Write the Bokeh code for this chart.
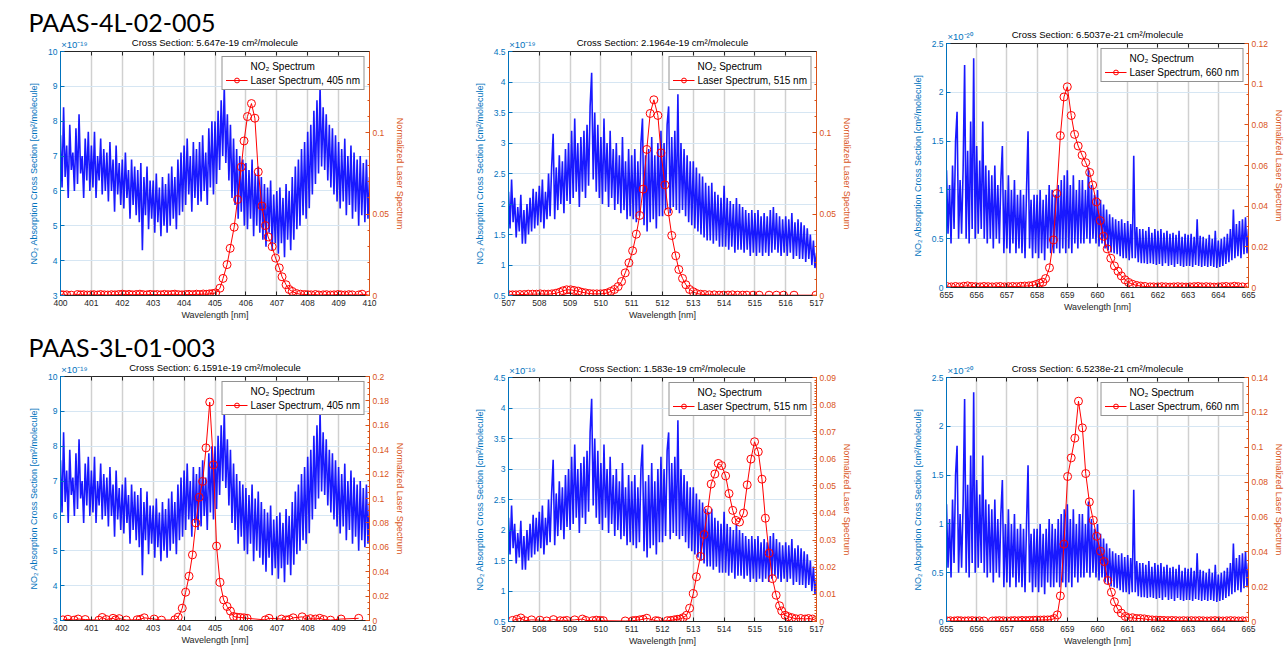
from bokeh.plotting import figure
from bokeh.models import (Range1d, LinearAxis, SingleIntervalTicker, FixedTicker,
                          NumeralTickFormatter, Legend, LegendItem, Title)
from bokeh.layouts import row, column
from bokeh.embed import file_html
from bokeh.resources import INLINE
from bokeh.core.properties import value

# ---------------- data ----------------
# NO2 cross-section spectra (sampled every 0.05 nm), units of 1e-19 (405, 515) and 1e-20 (660)
no2_step = 0.05
no2_405_start = 400.0
no2_405 = [
    7.6, 6.1, 8.4, 6.4, 7.3, 5.8, 7.9, 6.6, 7.1, 6.0,
    7.8, 6.2, 8.2, 6.5, 7.0, 5.8, 7.5, 6.3, 7.7, 6.0,
    7.3, 6.1, 7.7, 5.8, 7.0, 6.3, 7.5, 5.9, 7.2, 6.0,
    7.1, 5.7, 7.4, 6.0, 6.9, 5.4, 7.3, 5.9, 6.8, 5.6,
    6.9, 5.5, 7.1, 5.8, 6.6, 5.2, 6.9, 5.6, 6.7, 5.3,
    6.6, 5.1, 6.8, 4.3, 6.4, 5.3, 6.7, 4.9, 6.3, 5.2,
    6.3, 4.8, 6.5, 5.1, 6.1, 4.7, 6.4, 5.0, 6.2, 4.8,
    6.5, 5.0, 6.7, 5.2, 6.4, 4.9, 6.9, 5.3, 7.1, 5.4,
    7.3, 5.6, 7.5, 5.9, 7.0, 5.4, 7.4, 5.8, 7.2, 5.6,
    7.4, 5.7, 7.6, 6.0, 7.1, 5.6, 7.8, 6.1, 8.0, 5.9,
    8.0, 6.2, 8.3, 6.6, 8.6, 7.0, 9.0, 6.8, 8.2, 6.3,
    7.9, 5.8, 7.5, 5.6, 7.2, 5.2, 7.0, 5.4, 6.9, 5.0,
    6.8, 4.9, 6.6, 5.2, 6.9, 4.7, 6.5, 5.0, 6.7, 4.8,
    6.4, 4.6, 6.2, 4.4, 6.1, 4.8, 6.3, 4.3, 5.9, 4.5,
    6.0, 4.2, 6.1, 4.5, 5.8, 4.1, 6.2, 4.6, 6.0, 4.3,
    6.4, 4.6, 6.7, 4.9, 6.9, 5.0, 7.2, 5.3, 7.4, 5.2,
    7.7, 5.5, 7.9, 5.9, 8.3, 6.2, 8.6, 6.5, 9.0, 6.7,
    8.4, 6.6, 8.2, 6.3, 7.9, 6.1, 7.8, 5.9, 7.6, 5.7,
    7.4, 5.5, 7.2, 5.7, 7.5, 5.3, 7.0, 5.6, 7.3, 5.2,
    7.1, 5.4, 6.9, 5.0, 7.0, 5.3, 6.8, 5.1, 6.9, 5.2, 6.4]

no2_515_start = 507.0
no2_515 = [
    2.2, 1.6, 2.4, 1.7, 2.1, 1.45, 1.95, 1.55, 2.15, 1.35,
    1.9, 1.35, 2.0, 1.5, 2.1, 1.55, 2.25, 1.6, 2.2, 1.65,
    2.3, 1.7, 2.4, 1.6, 2.2, 1.75, 2.5, 1.8, 2.6, 3.15,
    1.75, 2.6, 1.9, 2.8, 2.0, 2.7, 1.85, 2.9, 2.05, 3.0,
    2.0, 3.2, 2.1, 3.4, 2.2, 3.0, 1.95, 3.1, 2.2, 3.2,
    2.1, 3.3, 2.3, 3.6, 4.15, 2.4, 3.5, 2.2, 3.3, 2.1,
    3.1, 2.0, 3.4, 2.2, 3.0, 1.95, 3.2, 2.1, 2.9, 1.9,
    3.0, 2.0, 2.8, 1.85, 3.1, 1.9, 2.7, 1.75, 2.9, 1.8,
    2.8, 1.75, 2.9, 1.7, 2.7, 1.8, 3.0, 3.4, 1.65, 2.8,
    1.55, 2.9, 1.7, 3.1, 1.75, 2.8, 1.6, 3.0, 1.8, 3.2,
    1.8, 3.0, 1.9, 3.3, 3.6, 1.85, 3.1, 1.95, 3.2, 1.9,
    3.8, 1.85, 3.0, 1.9, 2.9, 1.8, 2.8, 1.7, 2.7, 1.65,
    2.7, 1.6, 2.6, 1.55, 2.5, 1.5, 2.45, 1.45, 2.35, 1.4,
    2.3, 1.4, 2.35, 1.35, 2.2, 1.4, 2.15, 1.3, 2.1, 1.3,
    2.3, 1.3, 2.1, 1.25, 2.05, 1.3, 2.0, 1.2, 2.1, 1.25,
    2.0, 1.25, 1.95, 1.2, 1.9, 1.25, 1.85, 1.15, 1.9, 1.2,
    1.85, 1.15, 1.9, 1.2, 1.8, 1.15, 1.85, 1.2, 1.8, 1.15,
    1.9, 1.2, 1.95, 1.25, 1.85, 1.2, 1.8, 1.15, 1.75, 1.2,
    1.8, 1.15, 1.75, 1.2, 1.85, 1.1, 1.7, 1.15, 1.75, 1.1,
    1.7, 1.1, 1.65, 1.05, 1.6, 1.1, 1.5, 1.0, 1.4, 0.95, 1.2]

no2_660_start = 655.0
no2_660 = [
    1.2, 0.55, 1.05, 0.45, 1.25, 0.6, 1.5, 1.8, 0.5, 1.1,
    0.55, 1.2, 2.28, 0.5, 1.4, 0.45, 1.7, 0.6, 2.35, 0.5,
    1.45, 0.55, 1.3, 0.6, 1.7, 0.5, 1.25, 0.45, 1.2, 0.5,
    1.15, 0.4, 1.25, 0.5, 1.05, 0.45, 1.1, 1.45, 0.35, 1.0,
    0.4, 1.15, 0.35, 1.0, 0.45, 1.1, 0.35, 0.95, 0.4, 1.0,
    0.35, 0.95, 0.3, 1.0, 1.6, 0.4, 0.9, 0.3, 0.95, 0.35,
    0.95, 0.3, 1.0, 0.35, 0.9, 0.28, 0.95, 0.4, 1.05, 0.35,
    1.0, 0.35, 0.95, 0.4, 1.05, 0.35, 1.1, 0.4, 1.15, 0.35,
    1.2, 0.4, 1.05, 0.35, 1.15, 0.45, 1.0, 0.4, 1.1, 0.45,
    1.1, 0.45, 1.0, 0.5, 1.23, 0.45, 1.05, 0.5, 0.95, 0.45,
    1.0, 0.42, 0.9, 0.45, 0.85, 0.4, 0.8, 0.38, 0.75, 0.36,
    0.72, 0.35, 0.7, 0.34, 0.68, 0.32, 0.7, 0.3, 0.66, 0.3,
    0.68, 0.28, 0.65, 0.3, 1.35, 0.3, 0.62, 0.26, 0.6, 0.25,
    0.6, 0.25, 0.58, 0.24, 0.62, 0.25, 0.56, 0.24, 0.6, 0.23,
    0.58, 0.24, 0.6, 0.22, 0.56, 0.25, 0.58, 0.22, 0.55, 0.23,
    0.56, 0.21, 0.54, 0.24, 0.58, 0.22, 0.52, 0.21, 0.55, 0.22,
    0.54, 0.22, 0.55, 0.21, 0.52, 0.23, 0.7, 0.22, 0.53, 0.21,
    0.52, 0.22, 0.5, 0.21, 0.54, 0.22, 0.5, 0.21, 0.58, 0.2,
    0.48, 0.21, 0.5, 0.22, 0.52, 0.24, 0.55, 0.26, 0.6, 0.28,
    0.8, 0.3, 0.65, 0.32, 0.68, 0.3, 0.7, 0.34, 0.72, 0.35, 0.6]

# Laser spectra (normalized)
las_4L_405_x = [
    400.0, 400.1, 400.2, 400.35, 400.55, 400.65, 400.75, 400.87, 400.98, 401.08,
    401.2, 401.3, 401.42, 401.53, 401.65, 401.76, 401.88, 402.0, 402.1, 402.22,
    402.33, 402.45, 402.57, 402.68, 402.8, 402.9, 403.02, 403.13, 403.25, 403.36,
    403.48, 403.6, 403.7, 403.82, 403.93, 404.05, 404.16, 404.28, 404.4, 404.5,
    404.62, 404.73, 404.82, 404.92,
    405.02, 405.16, 405.26, 405.39, 405.49, 405.62, 405.73, 405.85, 405.94, 406.05,
    406.18, 406.29, 406.40, 406.52, 406.63, 406.72, 406.85, 406.96, 407.08, 407.17,
    407.30, 407.40, 407.50, 407.64,
    407.77, 407.9, 408.0, 408.11, 408.25, 408.36, 408.5, 408.61, 408.74, 408.85,
    408.98, 409.08, 409.2, 409.33, 409.44, 409.65, 409.76, 409.98]
las_4L_405_y = [
    0.0005, 0.0003, 0.0004, 0.0002, 0.0006, 0.0004, 0.0005, 0.0003, 0.0004, 0.0005,
    0.0003, 0.0006, 0.0004, 0.0003, 0.0005, 0.0004, 0.0006, 0.0008, 0.0005, 0.0007,
    0.0004, 0.0006, 0.0008, 0.0005, 0.0004, 0.0007, 0.0005, 0.0006, 0.0004, 0.0007,
    0.0005, 0.0006, 0.0008, 0.0005, 0.0004, 0.0006, 0.0007, 0.0005, 0.0008, 0.0006,
    0.0009, 0.0007, 0.001, 0.0012,
    0.0016, 0.0045, 0.0105, 0.019, 0.029, 0.042, 0.059, 0.079, 0.095, 0.110,
    0.118, 0.109, 0.076, 0.055, 0.043, 0.036, 0.030, 0.023, 0.017, 0.0115,
    0.0066, 0.0037, 0.0025, 0.0012,
    0.0008, 0.0006, 0.0005, 0.0004, 0.0006, 0.0003, 0.0004, 0.0005, 0.0003, 0.0004,
    0.0006, 0.0004, 0.0003, 0.0005, 0.0004, 0.0003, 0.0008, 0.0002]

las_4L_515_x = [
    507.02, 507.13, 507.24, 507.37, 507.51, 507.64, 507.78, 507.91, 508.03, 508.16,
    508.29, 508.41, 508.54, 508.66, 508.77, 508.89, 509.02, 509.13, 509.26, 509.38,
    509.50, 509.63, 509.75, 509.87, 509.99, 510.11, 510.21, 510.32, 510.44, 510.56,
    510.67, 510.79, 510.91, 511.03, 511.15, 511.26, 511.37, 511.49, 511.60, 511.72,
    511.85, 511.95, 512.08, 512.19, 512.30, 512.43, 512.53, 512.65, 512.76, 512.88,
    513.00, 513.11, 513.24, 513.37, 513.52, 513.68, 513.84, 513.98, 514.13, 514.27,
    514.44, 514.60, 514.74, 514.94, 515.14, 515.46, 515.70, 515.93, 516.27, 516.98]
las_4L_515_y = [
    0.0004, 0.0004, 0.0004, 0.0006, 0.0006, 0.0008, 0.0008, 0.0008, 0.001, 0.0008,
    0.0008, 0.001, 0.0014, 0.002, 0.0029, 0.0035, 0.0035, 0.0031, 0.0027, 0.002,
    0.0016, 0.0012, 0.001, 0.001, 0.001, 0.0012, 0.0016, 0.0025, 0.0037, 0.0055,
    0.0086, 0.0139, 0.0201, 0.0275, 0.0377, 0.0492, 0.0654, 0.0898, 0.1119, 0.1203,
    0.1107, 0.0877, 0.068, 0.0514, 0.0369, 0.0244, 0.016, 0.0105, 0.0066, 0.0037,
    0.0023, 0.0012, 0.0008, 0.0006, 0.0004, 0.0004, 0.0002, 0.0002, 0.0002, 0.0004,
    0.0002, 0.0002, 0.0002, 0.0002, 0.0002, 0.0002, 0.0002, 0.0002, 0.0002, 0.0002]

las_4L_660_x = [
    655.03, 655.16, 655.3, 655.43, 655.57, 655.7, 655.84, 655.97, 656.11, 656.24,
    656.38, 656.51, 656.65, 656.78, 656.92, 657.05, 657.19, 657.32, 657.46, 657.59,
    657.73,
    657.86, 657.97, 658.08, 658.19, 658.28, 658.41, 658.54, 658.65, 658.77, 658.89,
    659.00, 659.13, 659.24, 659.36, 659.49, 659.61, 659.74, 659.84, 659.96, 660.09,
    660.20, 660.32, 660.44, 660.56, 660.68, 660.79, 660.91, 661.03, 661.16, 661.30,
    661.43, 661.57, 661.74, 661.86,
    662.0, 662.13, 662.26, 662.4, 662.53, 662.66, 662.8, 662.93, 663.06, 663.2,
    663.33, 663.46, 663.6, 663.73, 663.86, 664.0, 664.13, 664.26, 664.4, 664.53,
    664.66, 664.8, 664.98]
las_4L_660_y = [
    0.0004, 0.0003, 0.0005, 0.0003, 0.0006, 0.0008, 0.0005, 0.0004, 0.0003, 0.0005,
    0.0004, 0.0003, 0.0004, 0.0005, 0.0003, 0.0004, 0.0005, 0.0004, 0.0006, 0.0007,
    0.0008,
    0.001, 0.0015, 0.0021, 0.0026, 0.0044, 0.0097, 0.0234, 0.0462, 0.0747, 0.0937,
    0.0987, 0.0846, 0.0753, 0.0696, 0.0651, 0.0614, 0.0566, 0.0504, 0.0421, 0.0329,
    0.0252, 0.019, 0.0144, 0.0106, 0.008, 0.0057, 0.0038, 0.0025, 0.0016, 0.001,
    0.0007, 0.0005, 0.0003, 0.0003,
    0.0003, 0.0004, 0.0003, 0.0002, 0.0003, 0.0004, 0.0003, 0.0002, 0.0003, 0.0004,
    0.0005, 0.0003, 0.0004, 0.0003, 0.0002, 0.0003, 0.0004, 0.0005, 0.0003, 0.0006,
    0.0004, 0.0003, 0.0002]

las_3L_405_x = [
    400.08, 400.24, 400.44, 400.57, 400.80, 401.24, 401.35, 401.48, 401.70, 401.78,
    401.90, 402.13, 402.48, 402.58, 402.71, 403.03, 403.27, 403.70, 403.81,
    403.94, 404.05, 404.16, 404.27, 404.38, 404.49, 404.60, 404.71, 404.83, 404.95,
    405.05, 405.16, 405.28, 405.39, 405.50, 405.60, 405.71,
    405.82, 405.94, 406.04, 406.63, 406.75, 407.15, 407.30, 407.40, 407.53, 407.82,
    407.96, 408.09, 408.25, 408.39, 408.52, 408.74, 409.08, 409.65]
las_3L_405_y = [
    0.0005, 0.001, 0.0003, 0.0012, 0.0008, 0.0003, 0.0025, 0.0008, 0.0018, 0.0005,
    0.0015, 0.0004, 0.0006, 0.001, 0.0022, 0.0012, 0.0003, 0.0006, 0.0028,
    0.0101, 0.0232, 0.0363, 0.0538, 0.080, 0.101, 0.114, 0.1415, 0.179, 0.1276,
    0.061, 0.0314, 0.0169, 0.0115, 0.0077, 0.0033, 0.0027,
    0.0025, 0.0022, 0.0018, 0.0005, 0.0018, 0.0012, 0.0004, 0.0008, 0.0022, 0.003,
    0.0008, 0.0015, 0.0012, 0.0018, 0.0008, 0.0003, 0.0012, 0.0018]

las_3L_515_x = [
    507.13, 507.27, 507.40, 507.53, 507.75, 508.02, 508.24, 508.46, 508.68, 508.79,
    508.89, 509.15, 509.40, 509.51, 509.73, 509.85, 509.98, 510.08, 510.79, 511.03,
    511.13, 511.26, 511.37, 511.49, 511.78, 511.86, 512.16, 512.27, 512.38, 512.48,
    512.57, 512.67, 512.78, 512.88, 513.00, 513.10, 513.23, 513.35, 513.47, 513.58,
    513.70, 513.81, 513.92, 514.05, 514.16, 514.28, 514.38, 514.50, 514.63, 514.75,
    514.87, 514.99, 515.11, 515.23, 515.34, 515.46, 515.57, 515.69, 515.80, 515.87,
    515.98, 516.08, 516.20, 516.33, 516.49, 516.63, 516.74, 516.87, 516.98]
las_3L_515_y = [
    0.0004, 0.0008, 0.0013, 0.0003, 0.0006, 0.0005, 0.0002, 0.0007, 0.0003, 0.0002,
    0.0004, 0.0006, 0.0009, 0.0004, 0.0003, 0.0005, 0.0004, 0.0003, 0.0002, 0.0003,
    0.0004, 0.0006, 0.0008, 0.0012, 0.0003, 0.0002, 0.0003, 0.0004, 0.0006, 0.0008,
    0.0009, 0.0014, 0.0023, 0.0049, 0.0103, 0.0165, 0.024, 0.0321, 0.0411, 0.0507,
    0.0544, 0.0583, 0.0575, 0.0537, 0.0472, 0.041, 0.0373, 0.0367, 0.04, 0.0504,
    0.0599, 0.0663, 0.0626, 0.0525, 0.0381, 0.0252, 0.0158, 0.0097, 0.0058, 0.0039,
    0.0023, 0.0018, 0.0014, 0.001, 0.0011, 0.0009, 0.0011, 0.0009, 0.0004]

las_3L_660_x = [
    655.02, 655.13, 655.26, 655.37, 655.48, 655.61, 655.72, 655.85, 655.97, 656.09,
    656.24, 656.52, 656.63, 656.75, 656.88, 657.01, 657.14, 657.25, 657.38, 657.5,
    657.63, 657.75, 657.88, 657.99, 658.11, 658.23,
    658.35, 658.46, 658.57, 658.67, 658.77, 658.89, 659.01, 659.13, 659.25, 659.37,
    659.50, 659.61, 659.73, 659.86, 659.97, 660.10, 660.22, 660.34, 660.46, 660.56,
    660.67, 660.79, 660.92, 661.03, 661.17, 661.30, 661.42, 661.55, 661.68,
    661.81, 661.94, 662.07, 662.2, 662.33, 662.46, 662.59, 662.72, 662.85, 662.98,
    663.11, 663.24, 663.37, 663.5, 663.63, 663.76, 663.89, 664.02, 664.15, 664.28,
    664.41, 664.54, 664.67, 664.8, 664.93]
las_3L_660_y = [
    0.0003, 0.0004, 0.0003, 0.0005, 0.0004, 0.0003, 0.0004, 0.0005, 0.0003, 0.0004,
    0.0003, 0.0003, 0.0004, 0.0005, 0.0004, 0.0003, 0.0004, 0.0005, 0.0004, 0.0006,
    0.0005, 0.0006, 0.0007, 0.0008, 0.0008, 0.0009,
    0.0009, 0.001, 0.0017, 0.0038, 0.0147, 0.0444, 0.0832, 0.0939, 0.1052, 0.1264,
    0.1111, 0.0849, 0.0686, 0.0581, 0.0489, 0.0403, 0.0344, 0.0235, 0.0168, 0.0113,
    0.0071, 0.0048, 0.0029, 0.0021, 0.0021, 0.0017, 0.0017, 0.0015, 0.0011,
    0.0009, 0.0008, 0.0007, 0.0006, 0.0005, 0.0006, 0.0005, 0.0004, 0.0005, 0.0004,
    0.0005, 0.0004, 0.0005, 0.0004, 0.0003, 0.0004, 0.0005, 0.0004, 0.0003, 0.0004,
    0.0005, 0.0004, 0.0003, 0.0004, 0.0003]

sample_names = ["PAAS-4L-02-005", "PAAS-3L-01-003"]
cross_sections = [["5.647e-19", "2.1964e-19", "6.5037e-21"],
                  ["6.1591e-19", "1.583e-19", "6.5238e-21"]]

# ---------------- style ----------------
FONT = "Liberation Sans"
TITLE_FONT = "Lato"
AX_BLUE = "#0072BD"
AX_ORANGE = "#D95319"
DARK = "#262626"


def sv(cls, prop, v):
    """Pass v as value() if the property is a data spec, else as a plain value."""
    try:
        cls(**{prop: value(v)})
        return value(v)
    except Exception:
        return v


def title_standoff(s):
    try:
        Title(standoff=s)
        return s
    except Exception:
        return 0


def style_axis(ax, color, label):
    ax.axis_line_color = color
    ax.axis_line_width = 1
    ax.major_tick_line_color = color
    ax.major_tick_in = 4
    ax.major_tick_out = 0
    ax.minor_tick_line_color = color
    ax.minor_tick_in = 2
    ax.minor_tick_out = 0
    ax.major_label_text_color = color
    ax.major_label_text_font = FONT
    ax.major_label_text_font_size = "8.5px"
    ax.major_label_standoff = 3
    ax.axis_label = label
    ax.axis_label_text_color = color
    ax.axis_label_text_font = FONT
    ax.axis_label_text_font_size = "9px"
    ax.axis_label_text_font_style = "normal"


def make_panel(w, h, bl, br, bt, bb, xr, yr, y_int, lr, lr_int, lr_minor,
               n_start, n_vals, lx, ly, cs, expo, nm, big=None):
    p = figure(width=w, height=h, x_range=Range1d(*xr), y_range=Range1d(*yr),
               output_backend="svg", toolbar_location=None, title=None,
               min_border_left=bl, min_border_right=br,
               min_border_top=bt, min_border_bottom=bb)
    p.extra_y_ranges = {"laser": Range1d(*lr)}
    p.outline_line_color = DARK
    p.outline_line_width = 1
    p.background_fill_color = "white"
    p.border_fill_color = "white"

    xa = p.below[0]
    xa.ticker = SingleIntervalTicker(interval=1, num_minor_ticks=0)
    style_axis(xa, DARK, "Wavelength [nm]")
    xa.major_label_standoff = 4
    xa.axis_label_standoff = 1

    ya = p.left[0]
    ya.ticker = SingleIntervalTicker(interval=y_int, num_minor_ticks=0)
    ya.formatter = NumeralTickFormatter(format="0.[0]")
    style_axis(ya, AX_BLUE, "NO\u2082 Absorption Cross Section [cm\u00b2/molecule]")
    ya.axis_label_standoff = 6

    ra = LinearAxis(y_range_name="laser",
                    ticker=SingleIntervalTicker(interval=lr_int, num_minor_ticks=lr_minor),
                    formatter=NumeralTickFormatter(format="0.[00]"))
    style_axis(ra, AX_ORANGE, "Normalized Laser Spectrum")
    ra.axis_label_standoff = 3
    p.add_layout(ra, "right")

    # top box ticks (no labels)
    tb = LinearAxis(ticker=SingleIntervalTicker(interval=1, num_minor_ticks=0))
    tb.major_label_text_font_size = "0px"
    tb.major_label_text_color = None
    tb.major_label_standoff = 0
    tb.major_tick_in = 4
    tb.major_tick_out = 0
    tb.major_tick_line_color = DARK
    tb.axis_line_color = None
    p.add_layout(tb, "above")

    # multiplier (blue, left) and cross-section title (black, centred) on one line
    ex = xr[0] + 0.45 * (xr[1] - xr[0]) / 10.0
    ta = LinearAxis(ticker=FixedTicker(ticks=[ex]))
    ta.major_label_overrides = {ex: expo}
    ta.major_tick_in = 0
    ta.major_tick_out = 0
    ta.axis_line_color = None
    ta.major_label_text_color = AX_BLUE
    ta.major_label_text_font = FONT
    ta.major_label_text_font_size = "9.5px"
    ta.major_label_standoff = 2
    ta.axis_label = "Cross Section: %s cm\u00b2/molecule" % cs
    ta.axis_label_text_color = "black"
    ta.axis_label_text_font = FONT
    ta.axis_label_text_font_size = "9.5px"
    ta.axis_label_text_font_style = "normal"
    ta.axis_label_standoff = -12
    p.add_layout(ta, "above")

    if big is not None:
        p.add_layout(Title(text=big[0], align="left", offset=big[1],
                           text_font=sv(Title, "text_font", TITLE_FONT), text_font_size="25px",
                           text_font_style=sv(Title, "text_font_style", "normal"),
                           text_color="black", standoff=title_standoff(-6)), "above")

    p.xgrid.grid_line_color = "#d0d0d0"
    p.xgrid.grid_line_width = 1.5
    p.ygrid.grid_line_color = "#d6e6f3"
    p.ygrid.grid_line_width = 1

    nx = [n_start + no2_step * i for i in range(len(n_vals))]
    p.line(nx, n_vals, line_color="#0000FF", line_width=1.6, line_alpha=0.9)
    leg_blue = p.line([], [], line_color="#5050FF", line_width=0.8, line_alpha=0.8)
    rl = p.line(lx, ly, y_range_name="laser", line_color="#FF0000", line_width=1)
    rc = p.scatter(lx, ly, y_range_name="laser", marker="circle", size=8,
                   fill_color=None, line_color="#FF0000", line_width=1)

    legend = Legend(items=[LegendItem(label="NO\u2082 Spectrum", renderers=[leg_blue]),
                           LegendItem(label="Laser Spectrum, %d nm" % nm, renderers=[rl, rc])],
                    location="top_right", border_line_color=DARK, border_line_width=1,
                    background_fill_color="white", background_fill_alpha=1,
                    label_text_font=FONT, label_text_font_size="10px", label_text_color="black",
                    glyph_width=22, glyph_height=12, label_height=12, label_standoff=3,
                    padding=3, spacing=2, margin=5)
    p.add_layout(legend)
    return p


e19 = "\u00d710\u207b\u00b9\u2079"
e20 = "\u00d710\u207b\u00b2\u2070"

pA = make_panel(440, 330, 60, 71, 51, 35, (400, 410), (3, 10), 1, (0, 0.15), 0.05, 5,
                no2_405_start, no2_405, las_4L_405_x, las_4L_405_y,
                cross_sections[0][0], e19, 405, big=(sample_names[0], -32))
pB = make_panel(440, 330, 68, 64, 51, 35, (507, 517), (0.5, 4.5), 0.5, (0, 0.15), 0.05, 5,
                no2_515_start, no2_515, las_4L_515_x, las_4L_515_y,
                cross_sections[0][1], e19, 515)
pC = make_panel(407, 330, 66, 37, 43, 43, (655, 665), (0, 2.5), 0.5, (0, 0.12), 0.02, 4,
                no2_660_start, no2_660, las_4L_660_x, las_4L_660_y,
                cross_sections[0][2], e20, 660)
pD = make_panel(440, 320, 60, 71, 46, 30, (400, 410), (3, 10), 1, (0, 0.2), 0.02, 4,
                no2_405_start, no2_405, las_3L_405_x, las_3L_405_y,
                cross_sections[1][0], e19, 405, big=(sample_names[1], -32))
pE = make_panel(440, 320, 68, 64, 47, 29, (507, 517), (0.5, 4.5), 0.5, (0, 0.09), 0.01, 10,
                no2_515_start, no2_515, las_3L_515_x, las_3L_515_y,
                cross_sections[1][1], e19, 515)
pF = make_panel(407, 320, 66, 37, 47, 29, (655, 665), (0, 2.5), 0.5, (0, 0.14), 0.02, 4,
                no2_660_start, no2_660, las_3L_660_x, las_3L_660_y,
                cross_sections[1][2], e20, 660)

layout = column(row(pA, pB, column(pC)), row(pD, column(pE), column(pF)))
open("out.html", "w").write(file_html(layout, INLINE))
